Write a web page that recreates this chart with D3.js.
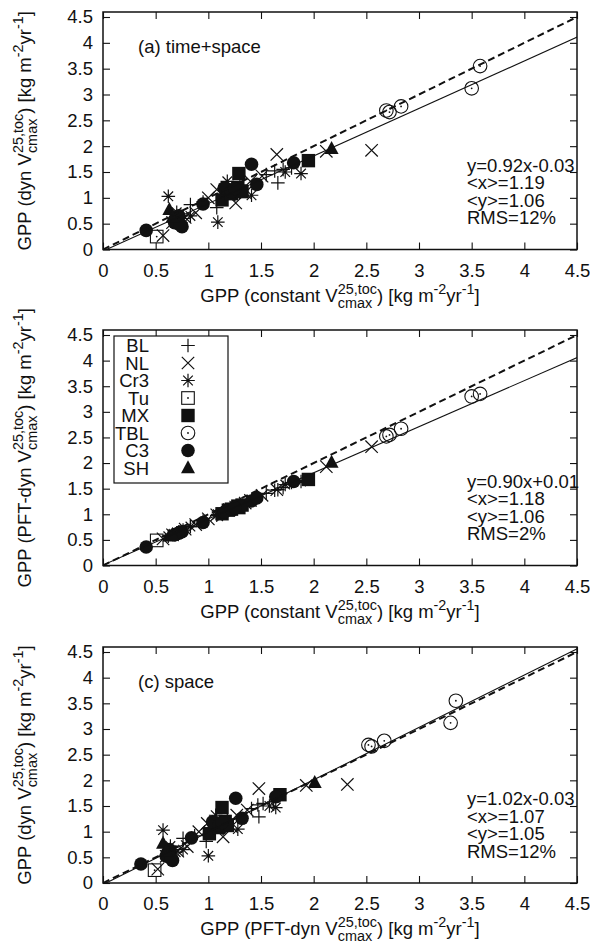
<!DOCTYPE html>
<html><head><meta charset="utf-8">
<script src="https://cdn.jsdelivr.net/npm/d3@7"></script>
<style>
html,body{margin:0;padding:0;background:#fff;}
svg text{font-family:"Liberation Sans",Arial,Helvetica,sans-serif;white-space:pre;fill:#111;}
</style></head>
<body><svg id="c" width="590" height="946"></svg>
<script>
// ---------- data ----------
const pftTypes = ["BL","NL","Cr3","Tu","MX","TBL","C3","SH"];
const siteType = [
 "BL","BL","BL","BL","BL","BL","BL","BL","BL",
 "NL","NL","NL","NL","NL","NL","NL","NL","NL","NL","NL","NL","NL","NL",
 "Cr3","Cr3","Cr3","Cr3","Cr3","Cr3","Cr3","Cr3","Cr3","Cr3",
 "Tu",
 "MX","MX","MX","MX","MX","MX","MX",
 "TBL","TBL","TBL","TBL","TBL",
 "C3","C3","C3","C3","C3","C3","C3","C3","C3","C3","C3","C3","C3",
 "SH","SH","SH"];
// GPP with constant Vcmax
const gppConst = [
 1.66,1.55,1.79,1.71,0.83,1.08,1.63,1.30,0.95,
 1.65,2.55,2.12,0.57,1.26,1.00,1.08,0.88,1.51,0.78,1.20,0.66,1.40,1.35,
 0.62,1.09,1.88,1.18,1.41,0.83,0.70,1.30,0.76,1.73,
 0.51,
 1.95,1.29,1.13,1.19,1.28,1.22,1.32,
 2.69,2.72,2.83,3.50,3.58,
 1.41,1.81,1.46,0.95,0.41,0.75,0.69,0.72,1.15,0.68,0.73,1.22,1.25,
 2.17,0.63,0.66];
// GPP with PFT-dynamic Vcmax
const gppPftDyn = [
 1.48,1.41,1.62,1.52,0.76,0.98,1.47,1.18,0.87,
 1.48,2.32,1.93,0.52,1.14,0.91,0.99,0.80,1.37,0.71,1.09,0.60,1.27,1.22,
 0.57,1.00,1.64,1.07,1.28,0.76,0.64,1.18,0.69,1.58,
 0.49,
 1.68,1.13,1.01,1.08,1.16,1.10,1.18,
 2.52,2.55,2.67,3.30,3.35,
 1.26,1.64,1.32,0.84,0.36,0.66,0.61,0.63,1.04,0.60,0.65,1.10,1.13,
 2.01,0.57,0.60];
// GPP with dynamic Vcmax
const gppDyn = [
 1.29,1.45,1.58,1.55,0.87,0.81,1.52,1.25,0.92,
 1.84,1.92,1.90,0.27,0.90,1.00,1.16,0.71,1.42,0.62,1.05,0.52,1.32,1.10,
 1.03,0.53,1.47,1.32,1.05,0.65,0.72,1.15,0.60,1.50,
 0.25,
 1.72,1.47,0.96,1.15,1.20,1.08,1.12,
 2.69,2.66,2.77,3.12,3.55,
 1.65,1.68,1.26,0.88,0.37,0.44,0.58,0.65,1.19,0.52,0.48,1.12,1.18,
 1.95,0.77,0.62];

const panelTags = ["(a) time+space","(b) time","(c) space"];
const fitSlope = [0.92,0.90,1.02];
const fitIntercept = [-0.03,0.01,-0.03];
const fitText = ["y=0.92x-0.03","y=0.90x+0.01","y=1.02x-0.03"];
const meanX = ["1.19","1.18","1.07"];
const meanY = ["1.06","1.06","1.05"];
const rmsText = ["12%","2%","12%"];
const tickValues = [0,0.5,1,1.5,2,2.5,3,3.5,4,4.5];
const tickLabels = ["0","0.5","1","1.5","2","2.5","3","3.5","4","4.5"];

// ---------- layout ----------
const svg = d3.select("#c");
const L = 103, R = 577;
const panelTop = [12, 330, 647];
const panelBottom = [249.5, 565.5, 883];
const FS = 18.5;

const panels = [
 {xs: gppConst, ys: gppDyn, xName:"constant ", yName:"dyn "},
 {xs: gppConst, ys: gppPftDyn, xName:"constant ", yName:"PFT-dyn "},
 {xs: gppPftDyn, ys: gppDyn, xName:"PFT-dyn ", yName:"dyn "}
];

function rich(parent, segs, size){
  const g = parent.append("g");
  let x = 0;
  segs.forEach(s=>{
    if (typeof s === "string"){
      const t = g.append("text").attr("x",x).attr("font-size",size).attr("xml:space","preserve").text(s);
      x += t.node().getComputedTextLength();
    } else {
      let w = 0;
      if (s.sup){ const t=g.append("text").attr("x",x).attr("y",-0.42*size).attr("font-size",size*0.78).text(s.sup); w=Math.max(w,t.node().getComputedTextLength()); }
      if (s.sub){ const t=g.append("text").attr("x",x).attr("y",0.33*size).attr("font-size",size*0.78).text(s.sub); w=Math.max(w,t.node().getComputedTextLength()); }
      x += w;
    }
  });
  return {g, width:x};
}
function labelSegs(name){
  return ["GPP (" + name, "V", {sup:"25,toc", sub:"cmax"}, ") [kg m", {sup:"-2"}, "yr", {sup:"-1"}, "]"];
}

function marker(g, type){
  const h = 6.8;
  if (type==="BL"){
    g.append("path").attr("d",`M${-h},0H${h}M0,${-h}V${h}`).attr("stroke","#111").attr("stroke-width",1.2).attr("fill","none");
  } else if (type==="NL"){
    const k=6.2;
    g.append("path").attr("d",`M${-k},${-k}L${k},${k}M${-k},${k}L${k},${-k}`).attr("stroke","#111").attr("stroke-width",1.2).attr("fill","none");
  } else if (type==="Cr3"){
    const k=4.8;
    g.append("path").attr("d",`M${-h},0H${h}M0,${-h}V${h}M${-k},${-k}L${k},${k}M${-k},${k}L${k},${-k}`).attr("stroke","#111").attr("stroke-width",1.2).attr("fill","none");
  } else if (type==="Tu"){
    g.append("rect").attr("x",-6.3).attr("y",-6.3).attr("width",12.6).attr("height",12.6).attr("fill","none").attr("stroke","#111").attr("stroke-width",1.1);
    g.append("circle").attr("r",0.9).attr("fill","#111");
  } else if (type==="MX"){
    g.append("rect").attr("x",-6.7).attr("y",-6.7).attr("width",13.4).attr("height",13.4).attr("fill","#111");
  } else if (type==="TBL"){
    g.append("circle").attr("r",6.8).attr("fill","none").attr("stroke","#111").attr("stroke-width",1.1);
    g.append("circle").attr("r",0.9).attr("fill","#111");
  } else if (type==="C3"){
    g.append("circle").attr("r",6.8).attr("fill","#111");
  } else if (type==="SH"){
    g.append("path").attr("d","M0,-7.8L7,5.2L-7,5.2Z").attr("fill","#111");
  }
}

panels.forEach((p,i)=>{
  const top = panelTop[i], bot = panelBottom[i];
  const x = d3.scaleLinear().domain([0,4.5]).range([L,R]);
  const y = d3.scaleLinear().domain([0,4.5]).range([bot, top+5]);
  const g = svg.append("g");

  const clipId = "clip"+i;
  svg.append("clipPath").attr("id",clipId).append("rect").attr("x",L).attr("y",top).attr("width",R-L).attr("height",bot-top);

  // axes with inward ticks (mirror)
  const ax = g.append("g").attr("transform",`translate(0,${bot})`)
    .call(d3.axisBottom(x).tickValues(tickValues).tickFormat((d,j)=>tickLabels[j]).tickSizeInner(-7).tickSizeOuter(0).tickPadding(10));
  const axT = g.append("g").attr("transform",`translate(0,${top})`)
    .call(d3.axisTop(x).tickValues(tickValues).tickFormat("").tickSizeInner(-7).tickSizeOuter(0));
  const ay = g.append("g").attr("transform",`translate(${L},0)`)
    .call(d3.axisLeft(y).tickValues(tickValues).tickFormat((d,j)=>tickLabels[j]).tickSizeInner(-7).tickSizeOuter(0).tickPadding(10));
  const ayR = g.append("g").attr("transform",`translate(${R},0)`)
    .call(d3.axisRight(y).tickValues(tickValues).tickFormat("").tickSizeInner(-7).tickSizeOuter(0));
  [ax,axT,ay,ayR].forEach(a=>{
    a.select(".domain").remove();
    a.selectAll("line").attr("stroke","#111").attr("stroke-width",1.1);
    a.selectAll("text").attr("font-size",FS).attr("font-family","Liberation Sans, Arial, sans-serif").attr("fill","#111");
  });
  ax.selectAll("text").attr("dy","0.92em");

  // points
  const pts = g.append("g");
  siteType.forEach((t,k)=>{
    const mg = pts.append("g").attr("transform",`translate(${x(p.xs[k])},${y(p.ys[k])})`);
    marker(mg, t);
  });

  // lines: 1:1 (dashed) and regression fit (solid)
  const lines = g.append("g").attr("clip-path",`url(#${clipId})`);
  const xd = [0, 4.6];
  lines.append("line").attr("x1",x(xd[0])).attr("y1",y(xd[0])).attr("x2",x(xd[1])).attr("y2",y(xd[1]))
    .attr("stroke","#111").attr("stroke-width",2).attr("stroke-dasharray","7,4");
  lines.append("line")
    .attr("x1",x(xd[0])).attr("y1",y(fitSlope[i]*xd[0]+fitIntercept[i]))
    .attr("x2",x(xd[1])).attr("y2",y(fitSlope[i]*xd[1]+fitIntercept[i]))
    .attr("stroke","#111").attr("stroke-width",1.1);

  // frame
  g.append("rect").attr("x",L).attr("y",top).attr("width",R-L).attr("height",bot-top)
    .attr("fill","none").attr("stroke","#111").attr("stroke-width",1.5);

  // panel tag
  g.append("text").attr("x",138).attr("y",top+41).attr("font-size",FS).text(panelTags[i]);

  // stats
  const stats = [fitText[i], "<x>="+meanX[i], "<y>="+meanY[i], "RMS="+rmsText[i]];
  stats.forEach((s,j)=>{
    g.append("text").attr("x",467).attr("y",bot-78+j*17.6).attr("font-size",FS).text(s);
  });

  // x label
  const xl = rich(g, labelSegs(p.xName), FS);
  xl.g.attr("transform",`translate(${(L+R)/2 - xl.width/2},${bot+52})`);
  // y label
  const yl = rich(g, labelSegs(p.yName), FS);
  yl.g.attr("transform",`translate(31,${(top+bot)/2 + yl.width/2}) rotate(-90)`);
});

// legend (panel b)
const lg = svg.append("g");
lg.append("rect").attr("x",114).attr("y",336).attr("width",114).attr("height",147)
  .attr("fill","#fff").attr("stroke","#111").attr("stroke-width",1.2);
pftTypes.forEach((t,j)=>{
  const cy = 345.5 + j*17.5;
  lg.append("text").attr("x",149).attr("y",cy).attr("dy","0.36em").attr("text-anchor","end").attr("font-size",FS).text(t);
  marker(lg.append("g").attr("transform",`translate(188,${cy})`), t);
});
</script></body></html>
